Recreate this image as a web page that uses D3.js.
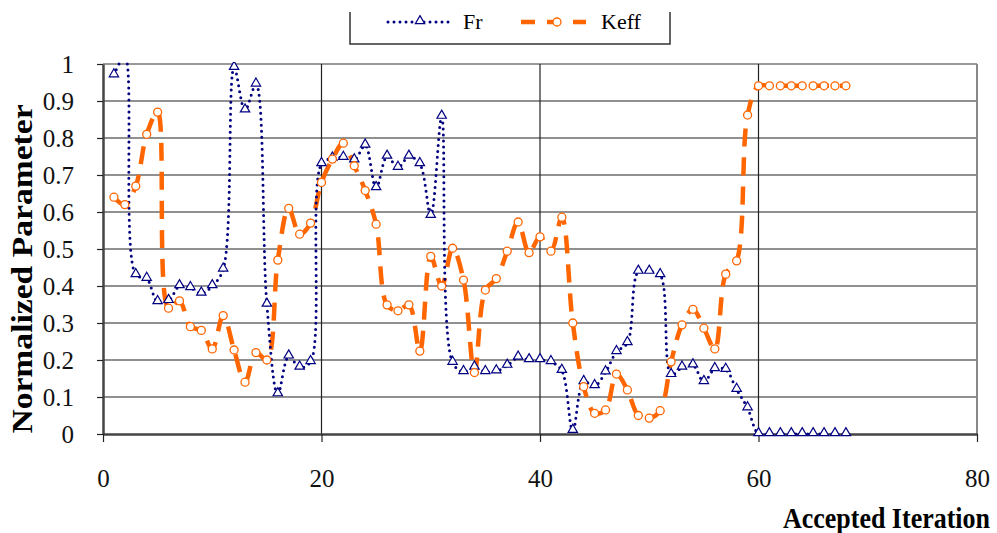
<!DOCTYPE html>
<html>
<head>
<meta charset="utf-8">
<script src="https://cdn.jsdelivr.net/npm/d3@7"></script>
<style>
  body { margin: 0; background: #fff; }
  text { font-family: "Liberation Serif", "DejaVu Serif", serif; }
</style>
</head>
<body>
<div id="chart"></div>
<script>
// values, iteration 1..68
const iterations = d3.range(1, 69);
const fr = [0.97, 1.02, 0.43, 0.42, 0.357, 0.36, 0.40, 0.395, 0.38, 0.40,
  0.445, 0.99, 0.875, 0.945, 0.35, 0.108, 0.21, 0.18, 0.195, 0.73,
  0.745, 0.747, 0.74, 0.78, 0.665, 0.75, 0.72, 0.75, 0.73, 0.59,
  0.858, 0.193, 0.168, 0.18, 0.168, 0.17, 0.185, 0.207, 0.20, 0.20,
  0.195, 0.171, 0.009, 0.141, 0.13, 0.167, 0.222, 0.246, 0.439, 0.439,
  0.43, 0.16, 0.18, 0.186, 0.141, 0.176, 0.174, 0.12, 0.07, 0.0,
  0, 0, 0, 0, 0, 0, 0, 0];
const keff = [0.64, 0.62, 0.67, 0.81, 0.87, 0.34, 0.36, 0.29, 0.28, 0.23,
  0.32, 0.227, 0.14, 0.22, 0.20, 0.47, 0.61, 0.54, 0.57, 0.68,
  0.743, 0.786, 0.725, 0.658, 0.567, 0.349, 0.333, 0.349, 0.224, 0.48,
  0.40, 0.502, 0.416, 0.166, 0.389, 0.42, 0.494, 0.573, 0.49, 0.533,
  0.494, 0.586, 0.30, 0.128, 0.056, 0.065, 0.162, 0.119, 0.05, 0.043,
  0.063, 0.195, 0.295, 0.337, 0.286, 0.23, 0.432, 0.468, 0.862, 0.941,
  0.941, 0.941, 0.941, 0.941, 0.941, 0.941, 0.941, 0.941];
const xTicks = [0, 20, 40, 60, 80];
const yTicks = d3.range(0, 11).map(d => d / 10);

const W = 997, H = 533;
const margin = {top: 64, right: 20, bottom: 99, left: 103};
const width = W - margin.left - margin.right;
const height = H - margin.top - margin.bottom;

const svg = d3.select("#chart").append("svg")
  .attr("width", W).attr("height", H);

const g = svg.append("g")
  .attr("transform", `translate(${margin.left},${margin.top})`);

const x = d3.scaleLinear().domain([0, 80]).range([0, width]);
const y = d3.scaleLinear().domain([0, 1]).range([height, 0]);

// horizontal grid
g.append("g")
  .selectAll("line")
  .data(yTicks.slice(1))
  .enter().append("line")
  .attr("x1", 0).attr("x2", width)
  .attr("y1", d => y(d)).attr("y2", d => y(d))
  .attr("stroke", d => d === 1 ? "#999" : "#222")
  .attr("stroke-width", d => d === 1 ? 2 : 1.2);

// vertical grid
g.append("g")
  .selectAll("line")
  .data(xTicks.slice(1))
  .enter().append("line")
  .attr("x1", d => x(d)).attr("x2", d => x(d))
  .attr("y1", 0).attr("y2", height)
  .attr("stroke", d => d === 80 ? "#888" : "#222")
  .attr("stroke-width", d => d === 80 ? 2 : 1.2);

// axes
const yAxis = g.append("g")
  .call(d3.axisLeft(y).tickValues(yTicks).tickSize(6).tickSizeOuter(0).tickPadding(23)
    .tickFormat(d => d3.format("")(+d.toFixed(1))));
const xAxis = g.append("g")
  .attr("transform", `translate(0,${height})`)
  .call(d3.axisBottom(x).tickValues(xTicks).tickSize(8).tickSizeOuter(0).tickPadding(27));
[yAxis, xAxis].forEach(a => {
  a.select(".domain").attr("stroke", "#444").attr("stroke-width", 2.5);
  a.selectAll(".tick line").attr("stroke", "#222").attr("stroke-width", 1.2);
  a.selectAll("text").attr("font-size", 25)
    .attr("font-family", "Liberation Serif, serif").attr("fill", "#111");
});
yAxis.selectAll("text").attr("dy", "0.34em");

svg.append("defs").append("clipPath").attr("id", "plot")
  .append("rect").attr("x", 0).attr("y", -2).attr("width", width).attr("height", height + 8);

const line = d3.line()
  .x((d, i) => x(iterations[i]))
  .y(d => y(d))
  .curve(d3.curveCatmullRom.alpha(0.5));

const plot = g.append("g").attr("clip-path", "url(#plot)");

// Keff series
plot.append("path")
  .datum(keff)
  .attr("d", line)
  .attr("fill", "none")
  .attr("stroke", "#ff6600")
  .attr("stroke-width", 4.5)
  .attr("stroke-dasharray", "18 11");

// Fr series
plot.append("path")
  .datum(fr)
  .attr("d", line)
  .attr("fill", "none")
  .attr("stroke", "#000080")
  .attr("stroke-width", 3)
  .attr("stroke-linecap", "round")
  .attr("stroke-dasharray", "0 6");

const tri = d3.symbol().type(d3.symbolTriangle).size(38);

plot.append("g")
  .selectAll("path")
  .data(fr)
  .enter().append("path")
  .attr("d", tri)
  .attr("transform", (d, i) => `translate(${x(iterations[i])},${y(d) - 1})`)
  .attr("fill", "#fff")
  .attr("stroke", "#000080")
  .attr("stroke-width", 1.2);

plot.append("g")
  .selectAll("circle")
  .data(keff)
  .enter().append("circle")
  .attr("cx", (d, i) => x(iterations[i]))
  .attr("cy", d => y(d))
  .attr("r", 4)
  .attr("fill", "#fff")
  .attr("stroke", "#ff6600")
  .attr("stroke-width", 1.3);

// axis titles
svg.append("text")
  .attr("transform", "translate(32,269) rotate(-90) scale(1.12,1)")
  .attr("text-anchor", "middle")
  .attr("font-size", 30)
  .attr("font-weight", "bold")
  .text("Normalized Parameter");

svg.append("text")
  .attr("transform", "translate(990,528) scale(1,1.15)")
  .attr("text-anchor", "end")
  .attr("font-size", 26)
  .attr("font-weight", "bold")
  .text("Accepted Iteration");

// legend
const leg = svg.append("g");
leg.append("path")
  .attr("d", "M350,12 V44 H670 V12")
  .attr("fill", "none")
  .attr("stroke", "#333")
  .attr("stroke-width", 1.5);

leg.append("line")
  .attr("x1", 388).attr("x2", 452).attr("y1", 22).attr("y2", 22)
  .attr("stroke", "#000080").attr("stroke-width", 3)
  .attr("stroke-linecap", "round").attr("stroke-dasharray", "0 6");
leg.append("path").attr("d", tri)
  .attr("transform", "translate(420,21)")
  .attr("fill", "#fff").attr("stroke", "#000080").attr("stroke-width", 1.2);
leg.append("text").attr("x", 463).attr("y", 29)
  .attr("font-size", 22).text("Fr");

leg.append("line")
  .attr("x1", 521).attr("x2", 586).attr("y1", 22).attr("y2", 22)
  .attr("stroke", "#ff6600").attr("stroke-width", 4.5)
  .attr("stroke-dasharray", "14 12");
leg.append("circle").attr("cx", 557).attr("cy", 22).attr("r", 4)
  .attr("fill", "#fff").attr("stroke", "#ff6600").attr("stroke-width", 1.3);
leg.append("text").attr("x", 601).attr("y", 29)
  .attr("font-size", 22).text("Keff");
</script>
</body>
</html>
